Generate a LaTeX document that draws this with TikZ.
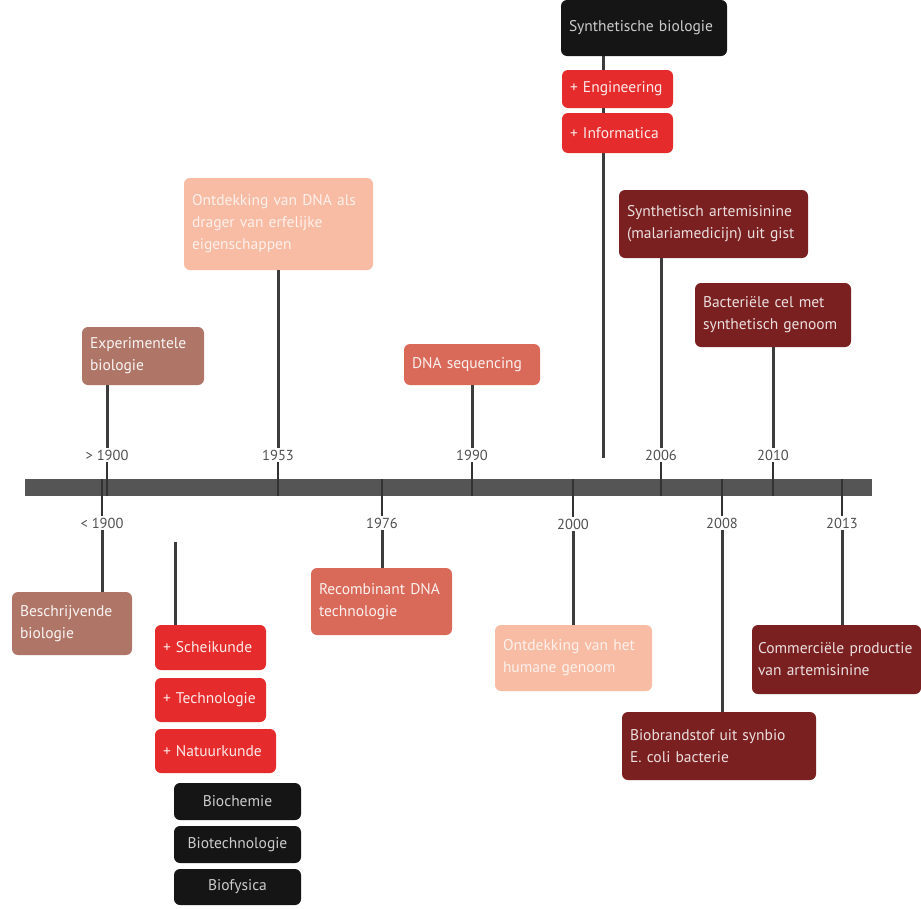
\documentclass[tikz,border=0pt]{standalone}
\usepackage{fontspec}
\setmainfont{PT Sans}
\usetikzlibrary{backgrounds}
\definecolor{cbrown}{HTML}{AF7668}
\definecolor{csalmon}{HTML}{F8BBA3}
\definecolor{ccoral}{HTML}{D96A5A}
\definecolor{cred}{HTML}{E52B2B}
\definecolor{cdark}{HTML}{7B2020}
\definecolor{cblack}{HTML}{151515}
\definecolor{cbar}{HTML}{555555}
\definecolor{cline}{HTML}{3C3C3C}
\definecolor{cyear}{HTML}{505050}
\tikzset{
  tbox/.style={rounded corners=6pt, inner xsep=8pt, inner ysep=0pt, align=left,
    font=\fontsize{15.5}{22}\selectfont, anchor=center},
  brownbox/.style={tbox, fill=cbrown, text=white!92!cbrown},
  salmonbox/.style={tbox, fill=csalmon, text=white!80!csalmon},
  coralbox/.style={tbox, fill=ccoral, text=white!90!ccoral},
  redbox/.style={tbox, fill=cred, text=white!90!cred},
  darkbox/.style={tbox, fill=cdark, text=white!85!cdark},
  blackbox/.style={tbox, fill=cblack, text=white!80!black},
  year/.style={font=\fontsize{14.5}{16}\selectfont, text=cyear, inner sep=2pt},
  conn/.style={draw=cline, line width=3pt},
  tickline/.style={draw=black!80, line width=2pt}
}
\begin{document}
\begin{tikzpicture}[x=1pt,y=-1pt]
\useasboundingbox (0,0) rectangle (921,908);
% bar
\node[fill=cbar, minimum width=847pt, minimum height=17pt, inner sep=0pt] (bar) at (448.5,487.5) {};
% upper year labels
\node[year] (y1900) at (107,455) {> 1900};
\node[year] (y1953) at (278,455) {1953};
\node[year] (y1990) at (472,455) {1990};
\node[year] (y2006) at (661,455) {2006};
\node[year] (y2010) at (773,455) {2010};
% lower year labels
\node[year] (l1900) at (102,523) {< 1900};
\node[year] (l1976) at (382,523) {1976};
\node[year] (l2000) at (573,524) {2000};
\node[year] (l2008) at (722,523) {2008};
\node[year] (l2013) at (842,523) {2013};
% upper boxes
\node[brownbox, text width=106pt, minimum height=58pt] (exp) at (143,356) {Experimentele\\biologie};
\node[salmonbox, text width=173pt, minimum height=92pt] (dna) at (278.5,224) {Ontdekking van DNA als\\drager van erfelijke\\eigenschappen};
\node[coralbox, text width=120pt, minimum height=41pt] (seq) at (472,364.5) {DNA sequencing};
\node[blackbox, text width=150pt, minimum height=56pt] (syn) at (644,28) {Synthetische biologie};
\node[redbox, text width=95pt, minimum height=38pt] (eng) at (617.5,89) {+ Engineering};
\node[redbox, text width=95pt, minimum height=40pt] (inf) at (617.5,133) {+ Informatica};
\node[darkbox, text width=173pt, minimum height=68pt] (art) at (713.5,224) {Synthetisch artemisinine\\(malariamedicijn) uit gist};
\node[darkbox, text width=140pt, minimum height=64pt] (bac) at (773,315) {Bacteriële cel met\\synthetisch genoom};
% lower boxes
\node[brownbox, text width=104pt, minimum height=63pt] (besch) at (72,623.5) {Beschrijvende\\biologie};
\node[redbox, text width=95pt, minimum height=45pt] (schei) at (210.5,647.5) {+ Scheikunde};
\node[redbox, text width=95pt, minimum height=44pt] (tech) at (210.5,700) {+ Technologie};
\node[redbox, text width=105pt, minimum height=44pt] (natuur) at (215.5,751) {+ Natuurkunde};
\node[blackbox, align=center, text width=111pt, minimum height=37pt] (bchem) at (237.5,801.5) {Biochemie};
\node[blackbox, align=center, text width=111pt, minimum height=37pt] (btech) at (237.5,844.5) {Biotechnologie};
\node[blackbox, align=center, text width=111pt, minimum height=36pt] (bfys) at (237.5,887) {Biofysica};
\node[coralbox, text width=125pt, minimum height=67pt] (rec) at (381.5,601.5) {Recombinant DNA\\technologie};
\node[salmonbox, text width=141pt, minimum height=66pt] (hum) at (573.5,658) {Ontdekking van het\\humane genoom};
\node[darkbox, text width=178pt, minimum height=68pt] (bio) at (719,746) {Biobrandstof uit synbio\\E. coli bacterie};
\node[darkbox, inner xsep=6pt, text width=157pt, minimum height=69pt] (com) at (836.5,659.5) {Commerciële productie\\van artemisinine};
% free points
\coordinate (synend) at (603,458);
\coordinate (schtop) at (175,542);
\begin{scope}[on background layer]
  \fill[white] (0,0) rectangle (921,908);
  \draw[conn] (synend |- syn.south) -- (synend);
\end{scope}
% upper connectors
\draw[conn] (y1900.north |- exp.south) -- (y1900.north);
\draw[conn] (y1953.north |- dna.south) -- (y1953.north);
\draw[conn] (y1990.north |- seq.south) -- (y1990.north);
\draw[conn] (y2006.north |- art.south) -- (y2006.north);
\draw[conn] (y2010.north |- bac.south) -- (y2010.north);
% upper ticks
\draw[tickline] (y1900.south) -- (y1900.south |- bar.south);
\draw[tickline] (y1953.south) -- (y1953.south |- bar.south);
\draw[tickline] (y1990.south) -- (y1990.south |- bar.south);
\draw[tickline] (y2006.south) -- (y2006.south |- bar.south);
\draw[tickline] (y2010.south) -- (y2010.south |- bar.south);
% lower ticks
\draw[tickline] (l1900.north |- bar.north) -- (l1900.north);
\draw[tickline] (l1976.north |- bar.north) -- (l1976.north);
\draw[tickline] (l2000.north |- bar.north) -- (l2000.north);
\draw[tickline] (l2008.north |- bar.north) -- (l2008.north);
\draw[tickline] (l2013.north |- bar.north) -- (l2013.north);
% lower connectors
\draw[conn] (l1900.south) -- (l1900.south |- besch.north);
\draw[conn] (schtop) -- (schtop |- schei.north);
\draw[conn] (l1976.south) -- (l1976.south |- rec.north);
\draw[conn] (l2000.south) -- (l2000.south |- hum.north);
\draw[conn] (l2008.south) -- (l2008.south |- bio.north);
\draw[conn] (l2013.south) -- (l2013.south |- com.north);
\end{tikzpicture}
\end{document}
